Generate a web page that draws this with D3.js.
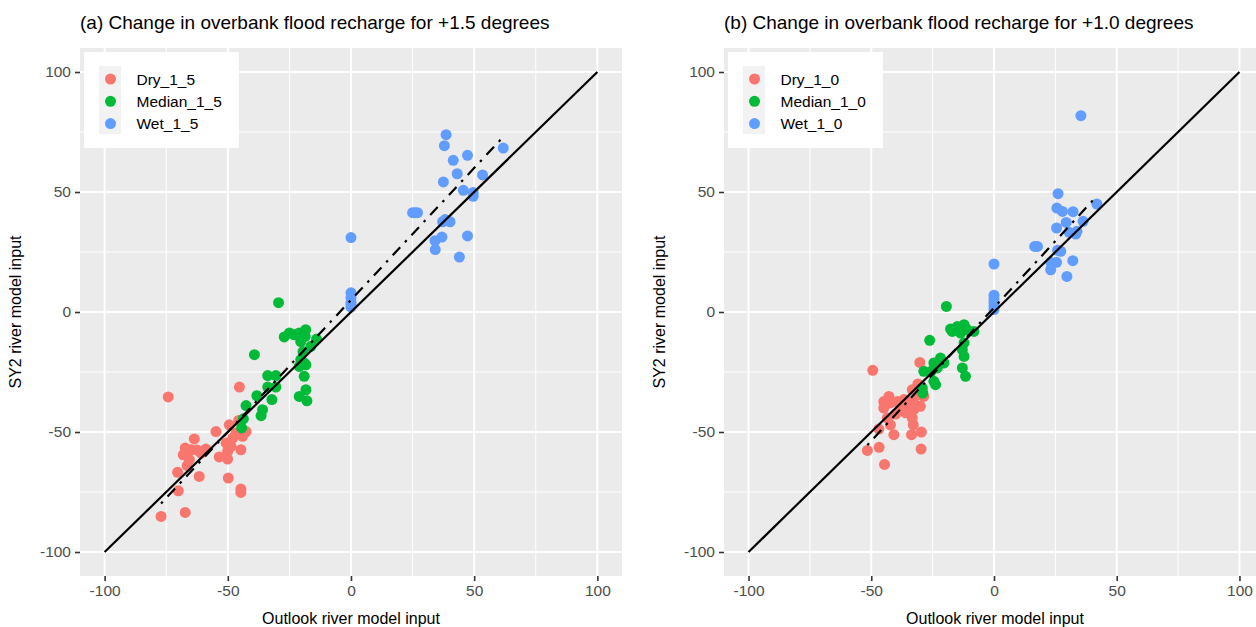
<!DOCTYPE html>
<html><head><meta charset="utf-8">
<script src="https://cdn.jsdelivr.net/npm/d3@7"></script>
<style>
html,body{margin:0;padding:0;background:#fff;overflow:hidden}
text{font-family:"Liberation Sans",Arial,sans-serif}
</style></head>
<body><svg id="chart" width="1256" height="627"></svg>
<script>
// ---------- data ----------
const majorTicks = [-100, -50, 0, 50, 100];
const minorTicks = [-75, -25, 25, 75];
const tickLabels = ["-100", "-50", "0", "50", "100"];

const seriesNames15 = ["Dry_1_5", "Median_1_5", "Wet_1_5"];
const seriesNames10 = ["Dry_1_0", "Median_1_0", "Wet_1_0"];
const seriesColors = ["#F8766D", "#00BA38", "#619CFF"];

const dry15 = [[-74.2,-35.4],[-45.3,-31.3],[-45.6,-45.2],[-49.4,-47],[-54.8,-49.8],[-42.6,-49.8],[-44,-51.8],[-46.7,-50.4],[-63.6,-52.9],[-58.9,-57.1],[-67.3,-56.7],[-65,-57.4],[-50.7,-54.6],[-48.7,-56],[-50.1,-58.1],[-44.7,-57.4],[-53.5,-60.4],[-50.1,-61.3],[-65.6,-61.5],[-68.1,-59.5],[-60.9,-58.8],[-70.4,-66.8],[-61.6,-68.5],[-49.8,-69.2],[-70.1,-74.5],[-44.7,-73.8],[-44.7,-75.2],[-67.3,-83.5],[-77.1,-85.2],[-62.5,-57.5],[-66.5,-64],[-48,-52.5]];
const median15 = [[-29.4,3.9],[-27.1,-10.4],[-25,-8.75],[-23,-9.5],[-21,-8.75],[-18.4,-7.4],[-18.6,-10.2],[-20.4,-12.3],[-14,-11.3],[-16.3,-14.3],[-39.2,-17.8],[-20.4,-19.9],[-19,-21.2],[-18.3,-22],[-21,-22.7],[-19,-26.8],[-18.3,-32.4],[-21,-35.2],[-17.9,-37],[-33.8,-26.5],[-30.5,-26.5],[-33.8,-31.3],[-30.5,-31.3],[-38.2,-34.9],[-32.1,-36.5],[-42.6,-39],[-35.9,-40.7],[-36.5,-43.2],[-43.7,-44.5],[-44.4,-48.3],[-19.5,-16.5]];
const wet15 = [[38.6,73.9],[37.9,69.3],[47.3,65.3],[41.5,63.2],[61.8,68.3],[43.1,57.6],[53.4,57.1],[37.5,54.2],[45.6,50.7],[49.6,49.8],[49.6,48.2],[25,41.4],[26,41.4],[27,41.4],[38.2,38.5],[40.2,37.6],[37.2,37.6],[36.9,31.2],[47.3,31.7],[34.1,29.7],[34.2,26],[44,22.9],[0,31],[0,8],[0,6],[0,4],[0,3],[0,2]];

const dry10 = [[-49.4,-24.3],[-30.2,-21],[-33.3,-32.4],[-31.3,-34.5],[-28.6,-35.2],[-42.8,-35.2],[-44.9,-37.3],[-42.2,-37.9],[-39.4,-37.3],[-36.7,-36.5],[-34.7,-37.3],[-32.7,-37.9],[-30,-39.3],[-32.7,-40.7],[-35.3,-40.7],[-38.1,-39.3],[-44.9,-40],[-43.5,-44.2],[-42.2,-47],[-33.3,-44.2],[-32.9,-47],[-46.9,-48.8],[-40.8,-51.1],[-33.6,-51.1],[-29.6,-50],[-51.6,-57.7],[-46.8,-56.4],[-29.7,-57.1],[-44.6,-63.5],[-31,-30],[-36,-42],[-40,-42.5]];
const median10 = [[-19.4,2.3],[-17.7,-7.1],[-14.9,-6],[-12.2,-5.3],[-10.9,-7.4],[-13.6,-8.75],[-17,-8.1],[-26.2,-11.8],[-8.2,-8.1],[-12.2,-12.9],[-12.9,-15.7],[-12.2,-18.5],[-21.8,-19.2],[-20.4,-21.2],[-24.5,-21.2],[-23.1,-23.3],[-28.6,-24.7],[-25.6,-24.7],[-12.9,-23.3],[-11.6,-26.8],[-24.5,-28.9],[-23.8,-30.3],[-29.2,-31.7],[-29,-33.8]];
const wet10 = [[35.4,81.8],[26.1,49.3],[25.6,43.3],[27.9,41.9],[32.2,41.8],[41.9,45],[29.4,37.3],[36.3,37.8],[25.5,35],[30.6,33.2],[33.3,32.5],[33.8,33.6],[17.7,27.3],[16.6,27.3],[25.9,25.7],[27.2,25.3],[25.5,20.7],[23.1,20.7],[23.1,17.6],[32.1,21.4],[29.7,14.8],[0,20],[0,7],[0,5.5],[0,4],[0,2.5],[0,1]];

const fit15 = {slope: 1.10, intercept: 5.0};
const fit10 = {slope: 1.11, intercept: 1.8};
const identityLine = [-100, 100];

const titles = ["(a) Change in overbank flood recharge for +1.5 degrees",
                "(b) Change in overbank flood recharge for +1.0 degrees"];
const xTitle = "Outlook river model input";
const yTitle = "SY2 river model input";

// ---------- drawing ----------
const svg = d3.select("#chart");
const panels = [
  {left: 80, right: 622, title: titles[0], names: seriesNames15, series: [dry15, median15, wet15], fit: fit15, yTitleX: 21},
  {left: 724, right: 1264, title: titles[1], names: seriesNames10, series: [dry10, median10, wet10], fit: fit10, yTitleX: 665}
];
const plotTop = 48, plotBottom = 576;

panels.forEach((p, pi) => {
  const x = d3.scaleLinear().domain([-110, 110]).range([p.left, p.right]);
  const y = d3.scaleLinear().domain([-110, 110]).range([plotBottom, plotTop]);
  const g = svg.append("g");
  const clipId = "clip" + pi;
  svg.append("clipPath").attr("id", clipId).append("rect")
    .attr("x", p.left).attr("y", plotTop).attr("width", p.right - p.left).attr("height", plotBottom - plotTop);

  g.append("rect").attr("x", p.left).attr("y", plotTop).attr("width", p.right - p.left)
    .attr("height", plotBottom - plotTop).attr("fill", "#EBEBEB");

  const grid = g.append("g").attr("clip-path", `url(#${clipId})`);
  grid.selectAll(".vmin").data(minorTicks).join("line")
    .attr("x1", d => x(d)).attr("x2", d => x(d)).attr("y1", plotTop).attr("y2", plotBottom)
    .attr("stroke", "#fff").attr("stroke-width", 1);
  grid.selectAll(".hmin").data(minorTicks).join("line")
    .attr("y1", d => y(d)).attr("y2", d => y(d)).attr("x1", p.left).attr("x2", p.right)
    .attr("stroke", "#fff").attr("stroke-width", 1);
  grid.selectAll(".vmaj").data(majorTicks).join("line")
    .attr("x1", d => x(d)).attr("x2", d => x(d)).attr("y1", plotTop).attr("y2", plotBottom)
    .attr("stroke", "#fff").attr("stroke-width", 2);
  grid.selectAll(".hmaj").data(majorTicks).join("line")
    .attr("y1", d => y(d)).attr("y2", d => y(d)).attr("x1", p.left).attr("x2", p.right)
    .attr("stroke", "#fff").attr("stroke-width", 2);

  // points
  const pts = g.append("g").attr("clip-path", `url(#${clipId})`);
  p.series.forEach((s, si) => {
    pts.selectAll(".s" + si).data(s).join("circle")
      .attr("cx", d => x(d[0])).attr("cy", d => y(d[1])).attr("r", 5.5)
      .attr("fill", seriesColors[si]);
  });

  // lines
  const line = d3.line().x(d => x(d[0])).y(d => y(d[1]));
  pts.append("path").datum(identityLine.map(v => [v, v]))
    .attr("d", line).attr("stroke", "#000").attr("stroke-width", 2.2).attr("fill", "none");
  const allX = p.series.flat().map(d => d[0]);
  const ext = d3.extent(allX);
  pts.append("path").datum(ext.map(v => [v, p.fit.slope * v + p.fit.intercept]))
    .attr("d", line).attr("stroke", "#000").attr("stroke-width", 2.2).attr("fill", "none")
    .attr("stroke-dasharray", "2.5,7,11,7");

  // axes
  const xAxis = d3.axisBottom(x).tickValues(majorTicks).tickFormat((d, i) => tickLabels[i])
    .tickSize(5).tickPadding(4);
  const yAxis = d3.axisLeft(y).tickValues(majorTicks).tickFormat((d, i) => tickLabels[i])
    .tickSize(5).tickPadding(4);
  const xa = g.append("g").attr("transform", `translate(0,${plotBottom})`).call(xAxis);
  const ya = g.append("g").attr("transform", `translate(${p.left},0)`).call(yAxis);
  [xa, ya].forEach(a => {
    a.select(".domain").remove();
    a.selectAll(".tick line").attr("stroke", "#333333").attr("stroke-width", 1.6);
    a.selectAll(".tick text").attr("fill", "#4D4D4D").style("font-size", "15.5px")
      .style("font-family", '"Liberation Sans", Arial, sans-serif');
  });

  // titles
  g.append("text").attr("x", p.left).attr("y", 29).text(p.title)
    .style("font-size", "19px").attr("fill", "#000");
  g.append("text").attr("x", p.left + 271).attr("y", 624)
    .attr("text-anchor", "middle").text(xTitle).style("font-size", "16px").attr("fill", "#000");
  g.append("text").attr("transform", `translate(${p.yTitleX},${(plotTop + plotBottom) / 2}) rotate(-90)`)
    .attr("text-anchor", "middle").text(yTitle).style("font-size", "16px").attr("fill", "#000");

  // legend
  const lg = g.append("g").attr("transform", `translate(${p.left + 4},52)`);
  lg.append("rect").attr("width", 155).attr("height", 96).attr("fill", "#fff");
  lg.append("rect").attr("x", 15).attr("y", 14).attr("width", 22).attr("height", 68).attr("fill", "#F2F2F2");
  p.names.forEach((n, i) => {
    lg.append("circle").attr("cx", 26.5).attr("cy", 27 + i * 22.3).attr("r", 5.5).attr("fill", seriesColors[i]);
    lg.append("text").attr("x", 52.5).attr("y", 27 + i * 22.3).attr("dy", "0.36em")
      .text(n).style("font-size", "15.5px").attr("fill", "#000");
  });
});
</script></body></html>
